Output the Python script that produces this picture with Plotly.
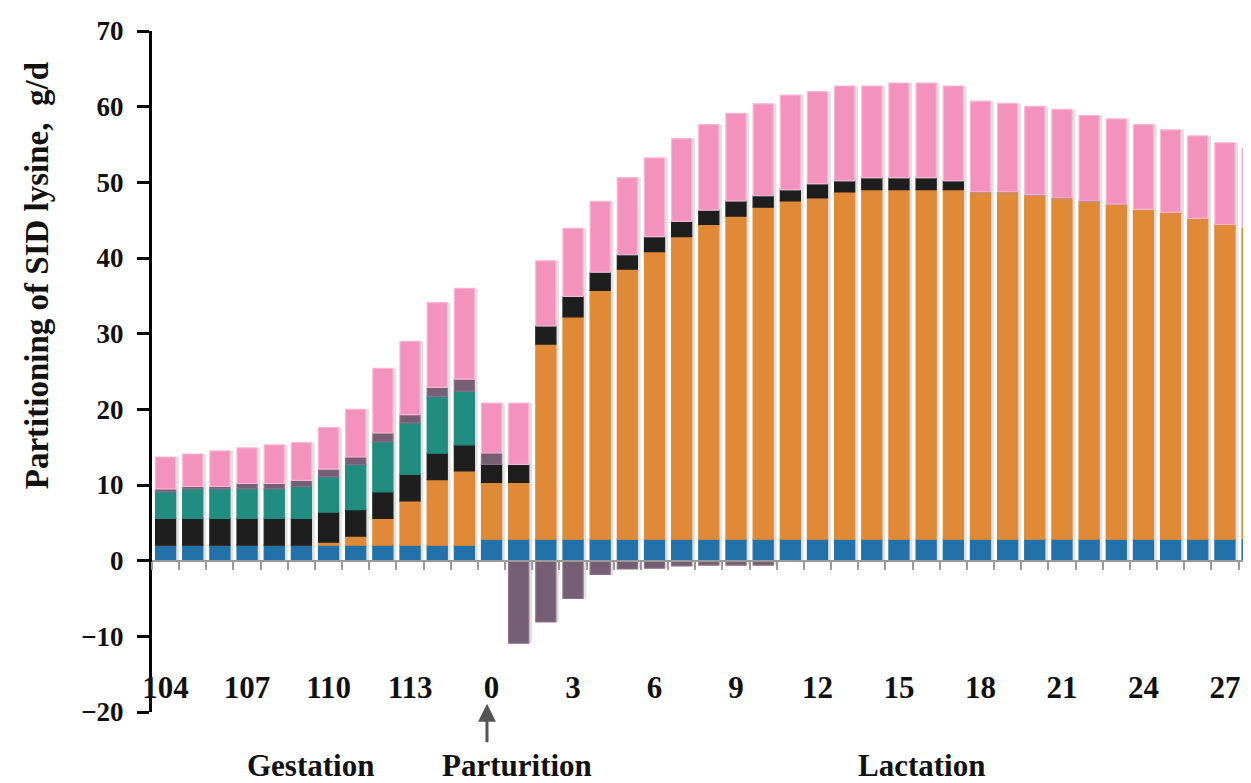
import plotly.graph_objects as go

# ---------------- data ----------------
days = [str(d) for d in range(104, 116)] + [str(d) for d in range(0, 29)]
tick_labels = ["104", "107", "110", "113", "0", "3", "6", "9", "12", "15", "18", "21", "24", "27"]

blue = [2.05] * 12 + [2.83] * 29
orange = [0, 0, 0, 0, 0, 0, 0.4, 1.2, 3.55, 5.85, 8.65, 9.8,
          7.5, 7.5, 25.8, 29.4, 32.9, 35.7, 38.0, 40.0, 41.6, 42.7, 43.9, 44.7, 45.1,
          45.9, 46.2, 46.2, 46.2, 46.2, 45.9, 45.9, 45.5, 45.1, 44.7, 44.3, 43.6,
          43.2, 42.4, 41.6, 41.2]
black = [3.55, 3.55, 3.55, 3.55, 3.55, 3.55, 3.95, 3.5, 3.5, 3.5, 3.5, 3.45,
         2.4, 2.4, 2.4, 2.7, 2.4, 1.9, 2.0, 2.0, 1.9, 2.0, 1.5, 1.5, 1.9,
         1.5, 1.6, 1.6, 1.6, 1.2, 0, 0, 0, 0, 0, 0, 0,
         0, 0, 0, 0]
teal = [3.5, 3.9, 3.9, 3.9, 3.9, 4.2, 4.7, 5.95, 6.6, 6.8, 7.5, 7.1] + [0] * 29
mauve = [0.4, 0.3, 0.3, 0.7, 0.7, 0.8, 1.0, 1.0, 1.2, 1.1, 1.2, 1.6,
         1.5, -10.9, -8.1, -5.0, -1.8, -1.1, -1.0, -0.7, -0.6, -0.6, -0.6, 0, 0,
         0, 0, 0, 0, 0, 0, 0, 0, 0, 0, 0, 0,
         0, 0, 0, 0]
pink = [4.2, 4.3, 4.7, 4.7, 5.1, 5.0, 5.5, 6.3, 8.5, 9.7, 11.2, 12.0,
        6.6, 8.1, 8.6, 9.0, 9.35, 10.2, 10.4, 10.95, 11.3, 11.6, 12.15, 12.5, 12.15,
        12.5, 12.1, 12.5, 12.5, 12.5, 12.0, 11.7, 11.7, 11.7, 11.3, 11.25, 11.2,
        10.9, 10.9, 10.8, 10.5]

series = [
    ("blue", blue, "#2271A9", "#2271A9"),
    ("orange", orange, "#E08A37", "#E08A37"),
    ("black", black, "#1E1E1E", "#1E1E1E"),
    ("teal", teal, "#218C80", "#218C80"),
    ("mauve", mauve, "#765E74", "#8A6F88"),
    ("pink", pink, "#F292BD", "#F8B6D4"),
]

BAR_W = 0.74
SERIF = "Liberation Serif"

fig = go.Figure()

# soft shadows (drawn on base axis, beneath the bars)
pos_tot = [sum(max(s[1][i], 0) for s in series) for i in range(len(days))]
neg_tot = [sum(min(s[1][i], 0) for s in series) for i in range(len(days))]
for tot in (pos_tot, neg_tot):
    fig.add_trace(go.Bar(
        x=days, y=tot, xaxis="x", yaxis="y",
        width=BAR_W, offset=-BAR_W / 2 + 0.12,
        marker=dict(color="#E0E0E0", line=dict(width=0)),
        hoverinfo="skip", showlegend=False,
    ))

for name, vals, col, edge in series:
    fig.add_trace(go.Bar(
        x=days, y=vals, name=name, xaxis="x2", yaxis="y",
        width=BAR_W,
        marker=dict(color=col, line=dict(color=edge, width=1.2)),
        showlegend=False,
    ))

x_range = [-0.5, 39.96]

fig.update_layout(
    width=1251, height=783,
    margin=dict(l=144, r=8, t=17, b=79),
    paper_bgcolor="white", plot_bgcolor="white",
    barmode="relative", bargap=0.26,
    showlegend=False,
    xaxis=dict(
        type="category", categoryorder="array", categoryarray=days,
        range=x_range, anchor="free", position=0.068,
        showline=False, showgrid=False, zeroline=False, ticks="",
        tickmode="array", tickvals=tick_labels, ticktext=tick_labels,
        tickfont=dict(family=SERIF, size=31, color="#111", weight="bold"),
    ),
    xaxis2=dict(
        type="category", categoryorder="array", categoryarray=days,
        range=x_range, overlaying="x", anchor="free", position=20 / 90,
        showline=True, linecolor="#9A9A9A", linewidth=2,
        ticks="outside", tickson="boundaries", ticklen=8, tickwidth=2, tickcolor="#9A9A9A",
        showticklabels=False, showgrid=False, zeroline=False,
    ),
    yaxis=dict(
        range=[-20, 70], tickmode="array", tickvals=list(range(-20, 71, 10)),
        showline=True, linecolor="black", linewidth=3,
        ticks="outside", ticklen=12, tickwidth=3, tickcolor="black",
        showgrid=False, zeroline=False,
        tickfont=dict(family=SERIF, size=27, color="#111", weight="bold"),
        ticklabelstandoff=8,
    ),
    annotations=[
        dict(text="Partitioning of SID lysine,  g/d", xref="paper", yref="paper",
             x=-0.1046, y=0.64, textangle=-90, showarrow=False,
             xanchor="center", yanchor="middle",
             font=dict(family=SERIF, size=33, color="#111", weight="bold")),
        dict(text="Gestation", xref="paper", yref="paper", x=0.1438, y=-0.078,
             showarrow=False, xanchor="center", yanchor="middle",
             font=dict(family=SERIF, size=31, color="#111", weight="bold")),
        dict(text="Parturition", xref="paper", yref="paper", x=0.3321, y=-0.078,
             showarrow=False, xanchor="center", yanchor="middle",
             font=dict(family=SERIF, size=31, color="#111", weight="bold")),
        dict(text="Lactation", xref="paper", yref="paper", x=0.7006, y=-0.078,
             showarrow=False, xanchor="center", yanchor="middle",
             font=dict(family=SERIF, size=31, color="#111", weight="bold")),
        dict(text="", xref="paper", yref="paper", x=0.3048, y=0.012,
             showarrow=True, ax=0, ay=40, arrowcolor="#555555",
             arrowwidth=3, arrowhead=2, arrowsize=1.2),
    ],
)

fig.write_html("out.html")
